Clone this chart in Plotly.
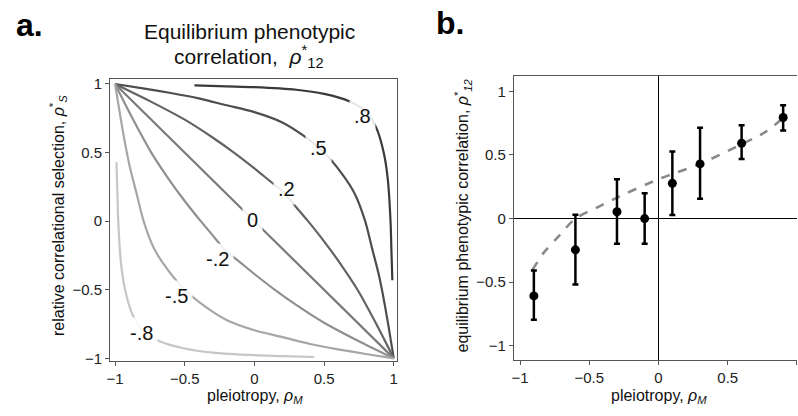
import plotly.graph_objects as go

W, H = 798, 416
FONT = "Liberation Sans, Arial, sans-serif"

# ---------- Panel a: contour lines ----------
c08_x = [-0.43, -0.2, 0.0, 0.3, 0.5, 0.68, 0.8, 0.875, 0.928, 0.958, 0.977, 0.983, 0.99]
c08_y = [0.99, 0.983, 0.977, 0.958, 0.928, 0.875, 0.8, 0.68, 0.5, 0.3, 0.0, -0.2, -0.43]

c05_x = [-1, -0.8, -0.6, -0.4, -0.2, 0, 0.2, 0.35, 0.5, 0.625, 0.72, 0.795, 0.845, 0.895, 0.934, 0.968, 1]
c05_y = [1, 0.968, 0.934, 0.895, 0.845, 0.795, 0.72, 0.625, 0.5, 0.35, 0.2, 0, -0.2, -0.4, -0.6, -0.8, -1]

c02_x = [-1, -0.75, -0.5, -0.3, -0.147, 0, 0.1, 0.21, 0.302, 0.385, 0.5, 0.61, 0.74, 0.875, 1]
c02_y = [1, 0.875, 0.74, 0.61, 0.5, 0.385, 0.302, 0.21, 0.1, 0, -0.147, -0.3, -0.5, -0.75, -1]

c00_x = [-1, 0, 1]
c00_y = [1, 0, -1]

cm02_x = [-1, -0.875, -0.74, -0.61, -0.5, -0.385, -0.302, -0.21, -0.1, 0, 0.147, 0.3, 0.5, 0.75, 1]
cm02_y = [1, 0.75, 0.5, 0.3, 0.147, 0, -0.1, -0.21, -0.302, -0.385, -0.5, -0.61, -0.74, -0.875, -1]

cm05_x = [-1, -0.968, -0.934, -0.895, -0.845, -0.795, -0.72, -0.625, -0.5, -0.35, -0.2, 0, 0.2, 0.4, 0.6, 0.8, 1]
cm05_y = [1, 0.8, 0.6, 0.4, 0.2, 0, -0.2, -0.35, -0.5, -0.625, -0.72, -0.795, -0.845, -0.895, -0.934, -0.968, -1]

cm08_x = [-0.99, -0.983, -0.977, -0.958, -0.928, -0.875, -0.8, -0.68, -0.5, -0.3, 0.0, 0.2, 0.43]
cm08_y = [0.43, 0.2, 0.0, -0.3, -0.5, -0.68, -0.8, -0.875, -0.928, -0.958, -0.977, -0.983, -0.99]

contour_names = [".8", ".5", ".2", "0", "-.2", "-.5", "-.8"]
contour_colors = ["#3a3a3a", "#4e4e4e", "#636363", "#7a7a7a", "#909090", "#a6a6a6", "#c6c6c6"]
label_x = [0.778, 0.458, 0.228, -0.016, -0.264, -0.562, -0.811]
label_y = [0.768, 0.53, 0.233, 0.007, -0.273, -0.544, -0.818]

# ---------- Panel b: simulation points & prediction ----------
pt_x = [-0.9, -0.6, -0.3, -0.1, 0.1, 0.3, 0.6, 0.9]
pt_y = [-0.608, -0.246, 0.054, 0.0, 0.277, 0.43, 0.592, 0.795]
pt_hi = [-0.408, 0.031, 0.31, 0.2, 0.528, 0.715, 0.733, 0.892]
pt_lo = [-0.795, -0.518, -0.198, -0.198, 0.028, 0.156, 0.469, 0.692]

curve_x = [-0.91, -0.83, -0.73, -0.6, -0.42, -0.3, 0.0, 0.1, 0.3, 0.6, 0.77, 0.9]
curve_y = [-0.403, -0.27, -0.15, 0.0, 0.1, 0.165, 0.31, 0.35, 0.43, 0.585, 0.68, 0.79]

ticks = [-1, -0.5, 0, 0.5, 1]
tick_text = ["\u22121", "\u22120.5", "0", "0.5", "1"]

fig = go.Figure()

contours = [(c08_x, c08_y), (c05_x, c05_y), (c02_x, c02_y), (c00_x, c00_y),
            (cm02_x, cm02_y), (cm05_x, cm05_y), (cm08_x, cm08_y)]
for (cx, cy), col, nm in zip(contours, contour_colors, contour_names):
    fig.add_trace(go.Scatter(x=cx, y=cy, mode="lines", name=nm,
                             line=dict(color=col, width=2.2, shape="spline", smoothing=0.8),
                             xaxis="x", yaxis="y", showlegend=False, hoverinfo="skip"))

fig.add_trace(go.Scatter(x=curve_x, y=curve_y, mode="lines",
                         line=dict(color="#8a8a8a", width=2.6, dash="dash", shape="spline", smoothing=0.8),
                         xaxis="x2", yaxis="y2", showlegend=False))

err_plus = [h - y for h, y in zip(pt_hi, pt_y)]
err_minus = [y - l for l, y in zip(pt_lo, pt_y)]
fig.add_trace(go.Scatter(x=pt_x, y=pt_y, mode="markers",
                         marker=dict(color="black", size=9),
                         error_y=dict(type="data", symmetric=False, array=err_plus, arrayminus=err_minus,
                                      color="black", thickness=2.5, width=3),
                         xaxis="x2", yaxis="y2", showlegend=False))

def px(x):
    return x / W

def py(y):
    return 1 - y / H

axis_common = dict(tickvals=ticks, ticktext=tick_text, ticks="outside", ticklen=4, tickwidth=1,
                   tickcolor="#555", showline=True, linecolor="#555", linewidth=1,
                   showgrid=False, tickfont=dict(family=FONT, size=15, color="#222"))

fig.update_layout(
    width=W, height=H, margin=dict(l=0, r=0, t=0, b=0),
    paper_bgcolor="white", plot_bgcolor="white",
    font=dict(family=FONT, color="#111"),
    xaxis=dict(domain=[px(106.7), px(395)], range=[-1.036, 1.02], mirror=True, zeroline=False,
               anchor="y", **axis_common),
    yaxis=dict(domain=[py(365), py(76.7)], range=[-1.02, 1.036], mirror=True, zeroline=False,
               anchor="x", **axis_common),
    xaxis2=dict(domain=[px(513), 1.0], range=[-1.045, 1.0], mirror=True, zeroline=True,
                zerolinecolor="black", zerolinewidth=1, anchor="y2", **axis_common),
    yaxis2=dict(domain=[py(364), py(74)], range=[-1.113, 1.118], mirror=False, zeroline=True,
                zerolinecolor="black", zerolinewidth=1, anchor="x2", **axis_common),
)

ann = []
for t, x, y in zip(contour_names, label_x, label_y):
    ann.append(dict(x=x, y=y, xref="x", yref="y", text=t, showarrow=False,
                    font=dict(family=FONT, size=20, color="#111"),
                    bgcolor="rgba(255,255,255,0.88)", borderpad=4))

ann += [
    dict(x=px(10), y=py(21), text="<b>a.</b>", xanchor="left", yanchor="middle",
         font=dict(family=FONT, size=32, color="black")),
    dict(x=px(433), y=py(19), text="<b>b.</b>", xanchor="left", yanchor="middle",
         font=dict(family=FONT, size=32, color="black")),
    dict(x=px(247), y=py(28), text="Equilibrium phenotypic", xanchor="center", yanchor="middle",
         font=dict(family=FONT, size=21, color="#111")),
    dict(x=px(247), y=py(54), text="correlation,  <i>ρ</i><sup>*</sup><sub>12</sub>",
         xanchor="center", yanchor="middle", font=dict(family=FONT, size=21, color="#111")),
    dict(x=px(253), y=py(401), text="pleiotropy, <i>ρ<sub>M</sub></i>", xanchor="center",
         yanchor="middle", font=dict(family=FONT, size=16, color="#111")),
    dict(x=px(659), y=py(401), text="pleiotropy, <i>ρ<sub>M</sub></i>", xanchor="center",
         yanchor="middle", font=dict(family=FONT, size=16, color="#111")),
    dict(x=px(55), y=py(216), text="relative correlational selection, <i>ρ</i><sup>*</sup><sub><i>S</i></sub>",
         textangle=-90, xanchor="center", yanchor="middle", font=dict(family=FONT, size=16, color="#111")),
    dict(x=px(462), y=py(216), text="equilibrium phenotypic correlation, <i>ρ</i><sup>*</sup><sub><i>12</i></sub>",
         textangle=-90, xanchor="center", yanchor="middle", font=dict(family=FONT, size=16, color="#111")),
]
for a in ann:
    a.setdefault("xref", "paper")
    a.setdefault("yref", "paper")
    a.setdefault("showarrow", False)
fig.update_layout(annotations=ann)

fig.write_html("out.html")
